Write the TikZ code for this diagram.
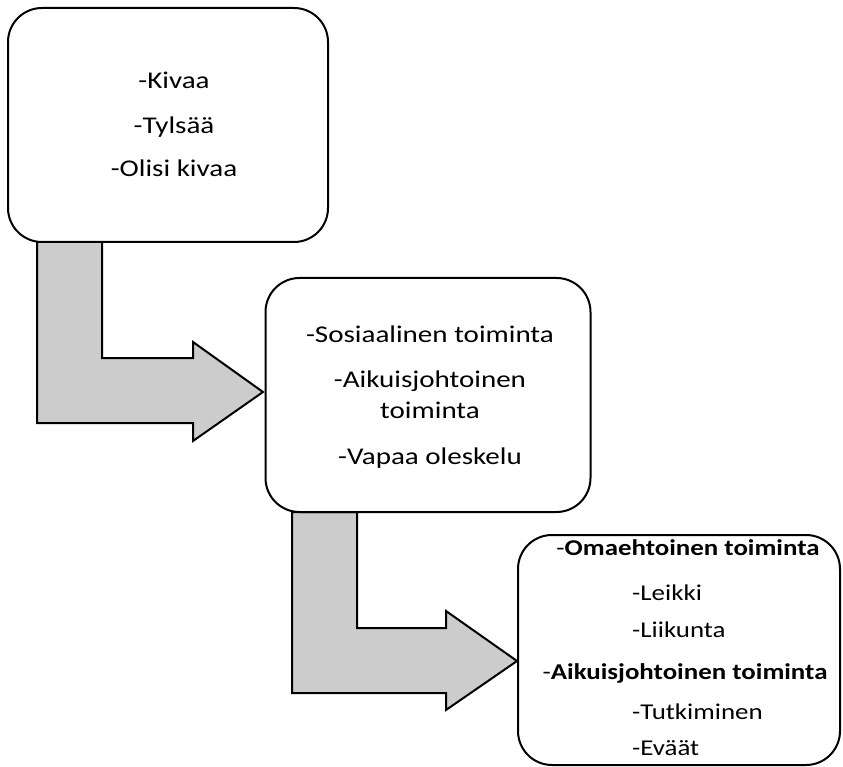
\documentclass[tikz,border=0pt]{standalone}
\usepackage{fontspec}
\setmainfont{Carlito}
\newfontfamily\widefont[FakeStretch=1.21]{Carlito}
\newfontfamily\widefontb[FakeStretch=1.19]{Carlito}
\begin{document}
\begin{tikzpicture}[x=1pt,y=-1pt,
  box/.style={draw=black,line width=2pt,fill=white,rounded corners=34pt,inner sep=0pt},
  bentarrow/.style={draw=black,line width=2pt,fill=black!20,line join=miter},
  txt/.style={font=\widefont\fontsize{24}{28}\selectfont,inner sep=0pt,anchor=base},
  txtb/.style={font=\widefontb\fontsize{22.6}{27}\selectfont,inner sep=0pt,anchor=base}]
\useasboundingbox (0,0) rectangle (843,767);
% arrows
\draw[bentarrow] (37,242) -- (102,242) -- (102,358) -- (193,358) -- (193,342) -- (263,392) -- (193,441) -- (193,423) -- (37,423) -- cycle;
\draw[bentarrow] (292,512) -- (357,512) -- (357,628) -- (446,628) -- (446,611) -- (517,661) -- (446,710) -- (446,693) -- (292,693) -- cycle;
% boxes
\node[box,minimum width=320pt,minimum height=234pt] (b1) at (168,125) {};
\node[box,minimum width=325pt,minimum height=234pt] (b2) at (428,395) {};
\node[box,minimum width=322pt,minimum height=230pt] (b3) at (679,650) {};
% box 1 text
\node[txt] (t11) at (174,89) {-Kivaa};
\node[txt] (t12) at (174,134) {-Tylsää};
\node[txt] (t13) at (174,177) {-Olisi kivaa};
% box 2 text
\node[txt] (t21) at (430,342) {-Sosiaalinen toiminta};
\node[txt] (t22) at (430,387) {-Aikuisjohtoinen};
\node[txt] (t23) at (430,418) {toiminta};
\node[txt] (t24) at (430,464) {-Vapaa oleskelu};
% box 3 text
\node[txtb] (t31) at (688,555) {-\textbf{Omaehtoinen toiminta}};
\node[txtb,anchor=base west] (t32) at (632,600) {-Leikki};
\node[txtb,anchor=base west] (t33) at (632,637) {-Liikunta};
\node[txtb] (t34) at (685,679) {-\textbf{Aikuisjohtoinen toiminta}};
\node[txtb,anchor=base west] (t35) at (632,719) {-Tutkiminen};
\node[txtb,anchor=base west] (t36) at (632,755) {-Eväät};
\end{tikzpicture}
\end{document}
